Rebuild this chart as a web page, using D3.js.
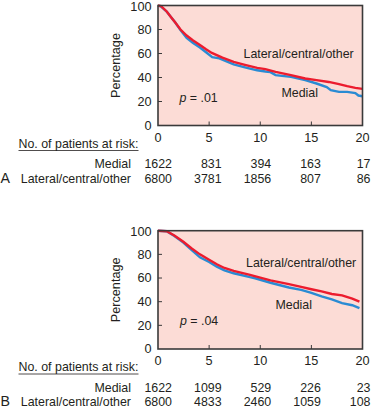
<!DOCTYPE html>
<html><head><meta charset="utf-8">
<script src="https://cdn.jsdelivr.net/npm/d3@7"></script>
<style>
html,body{margin:0;padding:0;background:#fff;}
svg text{font-family:"Liberation Sans",Arial,Helvetica,sans-serif;fill:#231f20;}
</style></head>
<body><svg id="c" width="371" height="418"></svg>
<script>
// ---- data ----
const xTicks = [0, 5, 10, 15, 20];
const yTicks = [0, 20, 40, 60, 80, 100];
const riskRows = ["Medial", "Lateral/central/other"];

// Panel A
const aMedialT = [0,0.3,0.85,1.3,1.67,2.2,2.8,3.4,4.1,4.7,5.3,6,7.4,8.5,9.7,10.5,11,11.5,13,14.4,15.5,16.5,16.9,17.7,18.5,19.3,19.6,20];
const aMedialV = [100,99,95,90,86,79.5,73,69,65,61,57,56,51,48.5,46,45,44.5,42,40.5,37.8,35,32,29.5,28,28,27,25,24.4];
const aLateralT = [0,0.3,0.85,1.3,1.67,2.2,2.8,3.4,4.1,4.7,5.26,6.3,7.4,8.5,9.7,10.5,11.5,13,14.4,15.5,16.7,17.7,18.5,19.3,20];
const aLateralV = [100,99.5,95,90,86,80,75,71,67,63.5,60.5,56.5,53,50.5,48,47,44.7,42,39.2,37.8,36.3,34.5,32.8,31.4,30.5];
const aRiskMedial = [1622, 831, 394, 163, 17];
const aRiskLateral = [6800, 3781, 1856, 807, 86];

// Panel B
const bMedialT = [0,0.85,1.6,2.48,3.3,4.1,5,5.75,6.5,7.4,9,9.5,11,12.8,14,15,16,17,18,19,19.7];
const bMedialV = [100,99.5,95.5,90,83.5,77.5,73.5,69.6,66.5,64,60.7,59.8,56,52,50,47.5,44.5,42,38.8,37,34.5];
const bLateralT = [0,0.85,1.6,2.48,3.3,4.1,5,5.75,6.5,7.4,9,10,11,12.8,14,15,16,17,18,19,19.7];
const bLateralV = [100,99.5,96,90.7,85,80,75.5,71.6,68.5,66,62.6,60.4,58,54.8,52.5,50.5,48.7,46.5,45.3,42.5,40];
const bRiskMedial = [1622, 1099, 529, 226, 23];
const bRiskLateral = [6800, 4833, 2460, 1059, 108];

const svg = d3.select("#c");
const FS = 12.4;
const RED = "#ec1c2e", BLUE = "#2a8bd3", BG = "#fcdcd6", FRAME = "#3a3a3a";

function panel(cfg) {
  const x = d3.scaleLinear().domain([0, 20]).range([158, 362.5]);
  const y = d3.scaleLinear().domain([0, 100]).range([cfg.bottom, cfg.top]);
  const g = svg.append("g");
  g.append("rect").attr("x", x(0)).attr("y", y(100))
    .attr("width", x(20) - x(0)).attr("height", y(0) - y(100))
    .attr("fill", BG);

  // ticks inward
  g.selectAll(".yt").data(yTicks.slice(1, -1)).enter().append("line")
    .attr("x1", x(0)).attr("x2", x(0) + 4).attr("y1", d => y(d)).attr("y2", d => y(d))
    .attr("stroke", FRAME).attr("stroke-width", 1);
  g.selectAll(".xt").data(xTicks.slice(1, -1)).enter().append("line")
    .attr("x1", d => x(d)).attr("x2", d => x(d)).attr("y1", y(0)).attr("y2", y(0) - 4)
    .attr("stroke", FRAME).attr("stroke-width", 1);

  const line = d3.line().x(d => x(d[0])).y(d => y(d[1]));
  const blue = cfg.mT.map((t, i) => [t, cfg.mV[i]]);
  const red = cfg.lT.map((t, i) => [t, cfg.lV[i]]);
  g.append("path").attr("d", line(blue)).attr("fill", "none").attr("stroke", BLUE).attr("stroke-width", 2.4);
  g.append("path").attr("d", line(red)).attr("fill", "none").attr("stroke", RED).attr("stroke-width", 2.4);

  g.append("rect").attr("x", x(0)).attr("y", y(100))
    .attr("width", x(20) - x(0)).attr("height", y(0) - y(100))
    .attr("fill", "none").attr("stroke", FRAME).attr("stroke-width", 1.6);

  // tick labels
  g.selectAll(".yl").data(yTicks).enter().append("text")
    .attr("x", 151.5).attr("y", d => y(d) + (d === 100 ? 0.8 : 0)).attr("dy", "0.35em")
    .attr("text-anchor", "end").attr("font-size", FS + 0.3).text(d => d);
  g.selectAll(".xl").data(xTicks).enter().append("text")
    .attr("x", d => x(d)).attr("y", y(0) + 16)
    .attr("text-anchor", "middle").attr("font-size", FS + 0.3).text(d => d);

  // axis title
  const cy = (y(0) + y(100)) / 2;
  g.append("text").attr("transform", `translate(119.5,${cy}) rotate(-90)`)
    .attr("text-anchor", "middle").attr("font-size", FS + 0.3).text("Percentage");

  // annotations
  g.append("text").attr("x", cfg.latX).attr("y", y(cfg.latY)).attr("font-size", FS).text("Lateral/central/other");
  g.append("text").attr("x", cfg.medX).attr("y", y(cfg.medY)).attr("font-size", FS).text("Medial");
  const p = g.append("text").attr("x", cfg.pX).attr("y", y(cfg.pY)).attr("font-size", FS);
  p.append("tspan").attr("font-style", "italic").text("p");
  p.append("tspan").text(" = " + cfg.pText);

  // risk table
  g.append("text").attr("x", 18.5).attr("y", y(0) + 22).attr("font-size", FS)
    .text("No. of patients at risk:");
  g.append("line").attr("x1", 18.5).attr("x2", 138.5).attr("y1", y(0) + 25).attr("y2", y(0) + 25)
    .attr("stroke", "#231f20").attr("stroke-width", 0.8);
  const col = d3.scaleLinear().domain([0, 20]).range([172, 370.5]);
  const rows = [cfg.rM, cfg.rL];
  rows.forEach((vals, ri) => {
    const ry = y(0) + 42.5 + ri * 14.5;
    g.append("text").attr("x", 131).attr("y", ry).attr("text-anchor", "end").attr("font-size", FS).text(riskRows[ri]);
    g.selectAll(null).data(vals).enter().append("text")
      .attr("x", (d, i) => col(xTicks[i])).attr("y", ry).attr("text-anchor", "end")
      .attr("font-size", FS).text(d => d);
  });
  g.append("text").attr("x", 0.5).attr("y", y(0) + 57).attr("font-size", FS + 1.8).text(cfg.letter);
}

panel({top: 5.5, bottom: 125.5, mT: aMedialT, mV: aMedialV, lT: aLateralT, lV: aLateralV,
  rM: aRiskMedial, rL: aRiskLateral, letter: "A", pText: ".01",
  latX: 243.5, latY: 56.5, medX: 281.5, medY: 23.5, pX: 179.5, pY: 19.5});
panel({top: 230.7, bottom: 349, mT: bMedialT, mV: bMedialV, lT: bLateralT, lV: bLateralV,
  rM: bRiskMedial, rL: bRiskLateral, letter: "B", pText: ".04",
  latX: 246, latY: 69.5, medX: 275.5, medY: 33.5, pX: 180, pY: 20});
</script></body></html>
